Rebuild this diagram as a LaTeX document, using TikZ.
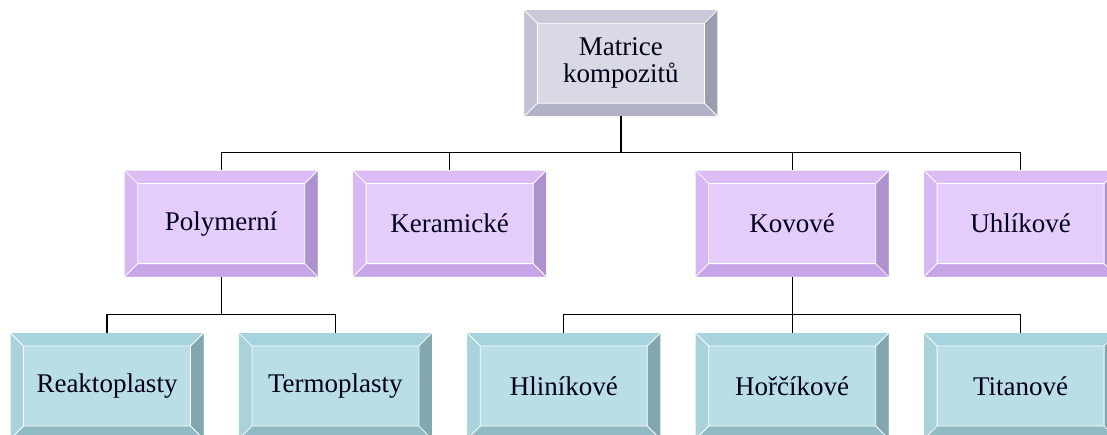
\documentclass[tikz,border=0pt]{standalone}
\usepackage{fontspec}
\setmainfont{Liberation Serif}
\usetikzlibrary{positioning,calc}
\definecolor{greyface}{HTML}{D9D9E5}
\definecolor{greytop}{HTML}{C9C9D9}
\definecolor{greyleft}{HTML}{C2C2D3}
\definecolor{greyright}{HTML}{9C9CB0}
\definecolor{greybottom}{HTML}{B2B2C6}
\definecolor{lilaface}{HTML}{E4CCFB}
\definecolor{lilatop}{HTML}{DCBCF5}
\definecolor{lilaleft}{HTML}{D6B8F2}
\definecolor{lilaright}{HTML}{AE92CE}
\definecolor{lilabottom}{HTML}{C6A6E6}
\definecolor{tealface}{HTML}{BADEE5}
\definecolor{tealtop}{HTML}{A7D3DE}
\definecolor{tealleft}{HTML}{AAD2DB}
\definecolor{tealright}{HTML}{82A7AF}
\definecolor{tealbottom}{HTML}{90BBC4}
\tikzset{
    bevelbox/.style n args={5}{
        rectangle,
        inner sep=0pt,
        minimum width=193pt,
        minimum height=106pt,
        align=center,
        font=\fontsize{27}{27}\selectfont,
        text=black!90!blue,
        fill=#1,
        path picture={
            \coordinate (bnw) at (path picture bounding box.north west);
            \coordinate (bne) at (path picture bounding box.north east);
            \coordinate (bse) at (path picture bounding box.south east);
            \coordinate (bsw) at (path picture bounding box.south west);
            \coordinate (inw) at ([shift={(13pt,-13pt)}]bnw);
            \coordinate (ine) at ([shift={(-13pt,-13pt)}]bne);
            \coordinate (ise) at ([shift={(-13pt,13pt)}]bse);
            \coordinate (isw) at ([shift={(13pt,13pt)}]bsw);
            \fill[#2] (bnw) -- (bne) -- (ine) -- (inw) -- cycle;
            \fill[#3] (bnw) -- (inw) -- (isw) -- (bsw) -- cycle;
            \fill[#4] (bne) -- (ine) -- (ise) -- (bse) -- cycle;
            \fill[#5] (bsw) -- (isw) -- (ise) -- (bse) -- cycle;
            \draw[white, line width=0.8pt] (inw) -- (ine) -- (ise) -- (isw) -- cycle
                (bnw) -- (inw) (bne) -- (ine) (bse) -- (ise) (bsw) -- (isw);
        }
    },
    topbox/.style={bevelbox={greyface}{greytop}{greyleft}{greyright}{greybottom}},
    midbox/.style={bevelbox={lilaface}{lilatop}{lilaleft}{lilaright}{lilabottom}},
    lowbox/.style={bevelbox={tealface}{tealtop}{tealleft}{tealright}{tealbottom}},
    link/.style={draw=black, line width=1.2pt}
}
\begin{document}
\begin{tikzpicture}[x=1pt, y=1pt, node distance=56pt and 35pt]
    \useasboundingbox (0,0) rectangle (1107,434);

    % Bottom row
    \node (reakt) [lowbox] at (107,48) {Reaktoplasty};
    \node (termo) [lowbox, right=of reakt] {Termoplasty};
    \node (hlin) [lowbox, right=of termo] {Hliníkové};
    \node (horc) [lowbox, right=of hlin] {Hořčíkové};
    \node (titan) [lowbox, right=of horc] {Titanové};

    % Middle row
    \coordinate (midpoly) at ($(reakt.north)!0.5!(termo.north)$);
    \node (poly) [midbox, above=of midpoly, anchor=south] {Polymerní};
    \node (kera) [midbox, right=of poly] {Keramické};
    \node (kov) [midbox, above=of horc] {Kovové};
    \node (uhli) [midbox, right=of kov] {Uhlíkové};

    % Top
    \coordinate (midtop) at ($(poly.north)!0.5!(uhli.north)$);
    \node (mat) [topbox, above=54pt of midtop, anchor=south] {Matrice\\kompozitů};

    % Connectors
    \draw[link] (mat.south) -- ++(0,-36pt) -| (poly.north);
    \draw[link] (mat.south) -- ++(0,-36pt) -| (kera.north);
    \draw[link] (mat.south) -- ++(0,-36pt) -| (kov.north);
    \draw[link] (mat.south) -- ++(0,-36pt) -| (uhli.north);
    \draw[link] (poly.south) -- ++(0,-38pt) -| (reakt.north);
    \draw[link] (poly.south) -- ++(0,-38pt) -| (termo.north);
    \draw[link] (kov.south) -- (horc.north);
    \draw[link] (kov.south) -- ++(0,-38pt) -| (hlin.north);
    \draw[link] (kov.south) -- ++(0,-38pt) -| (titan.north);

\end{tikzpicture}
\end{document}
